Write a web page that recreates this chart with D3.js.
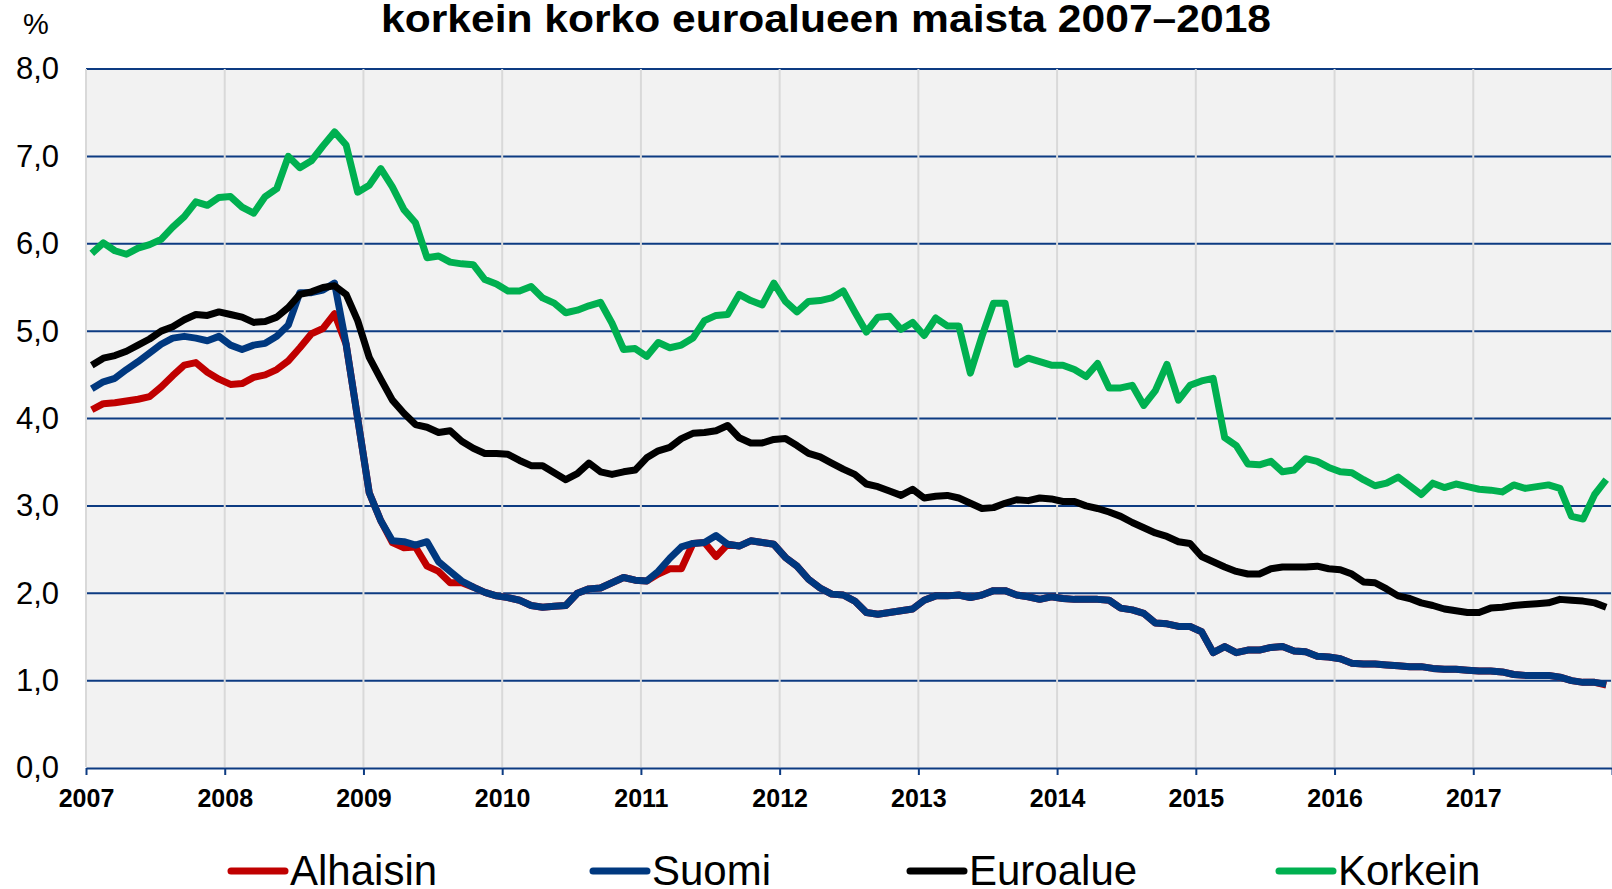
<!DOCTYPE html>
<html>
<head>
<meta charset="utf-8">
<script src="https://cdn.jsdelivr.net/npm/d3@7"></script>
<style>
    body { margin: 0; background: #fff; }
    svg { display: block; font-family: "Liberation Sans", Arial, sans-serif; }
</style>
</head>
<body>
<svg id="chart" width="1612" height="889"></svg>
<script>
// kuukausittaiset arvot tammikuu 2007 - joulukuu 2017
var firstYear = 2007, lastYear = 2018;
var yearTicks = d3.range(2007, 2019);
var yTicks = [0, 1, 2, 3, 4, 5, 6, 7, 8];
var seriesNames = ['Alhaisin', 'Suomi', 'Euroalue', 'Korkein'];

var alhaisin = [
    4.10, 4.17, 4.18, 4.20, 4.22, 4.25, 4.36, 4.49, 4.61, 4.64, 4.53, 4.45,
    4.39, 4.40, 4.47, 4.50, 4.56, 4.66, 4.81, 4.97, 5.03, 5.20, 4.85, 4.00,
    3.15, 2.83, 2.58, 2.52, 2.53, 2.31, 2.25, 2.12, 2.12, 2.07, 2.01, 1.97,
    1.95, 1.92, 1.86, 1.84, 1.85, 1.86, 2.00, 2.05, 2.06, 2.12, 2.18, 2.15,
    2.14, 2.22, 2.28, 2.28, 2.57, 2.58, 2.42, 2.56, 2.54, 2.60, 2.58, 2.56,
    2.41, 2.31, 2.16, 2.06, 1.99, 1.98, 1.91, 1.78, 1.76, 1.78, 1.80, 1.82,
    1.92, 1.97, 1.97, 1.98, 1.95, 1.98, 2.03, 2.03, 1.98, 1.96, 1.93, 1.96,
    1.94, 1.93, 1.93, 1.93, 1.92, 1.83, 1.81, 1.77, 1.66, 1.65, 1.62, 1.62,
    1.56, 1.32, 1.39, 1.32, 1.35, 1.35, 1.38, 1.39, 1.34, 1.33, 1.28, 1.27,
    1.25, 1.20, 1.19, 1.19, 1.18, 1.17, 1.16, 1.16, 1.14, 1.13, 1.13, 1.12,
    1.11, 1.11, 1.10, 1.07, 1.06, 1.06, 1.06, 1.04, 1.00, 0.98, 0.98, 0.95
];
var suomi = [
    4.34, 4.42, 4.46, 4.56, 4.65, 4.75, 4.85, 4.92, 4.94, 4.92, 4.89, 4.94,
    4.84, 4.79, 4.84, 4.86, 4.94, 5.07, 5.44, 5.44, 5.47, 5.55, 4.85, 4.00,
    3.15, 2.83, 2.60, 2.59, 2.55, 2.59, 2.36, 2.25, 2.14, 2.07, 2.01, 1.97,
    1.95, 1.92, 1.86, 1.84, 1.85, 1.86, 2.00, 2.05, 2.06, 2.12, 2.18, 2.15,
    2.14, 2.25, 2.40, 2.53, 2.57, 2.58, 2.66, 2.56, 2.54, 2.60, 2.58, 2.56,
    2.41, 2.31, 2.16, 2.06, 1.99, 1.98, 1.91, 1.78, 1.76, 1.78, 1.80, 1.82,
    1.92, 1.97, 1.97, 1.98, 1.95, 1.98, 2.03, 2.03, 1.98, 1.96, 1.93, 1.96,
    1.94, 1.93, 1.93, 1.93, 1.92, 1.83, 1.81, 1.77, 1.66, 1.65, 1.62, 1.62,
    1.56, 1.32, 1.39, 1.32, 1.35, 1.35, 1.38, 1.39, 1.34, 1.33, 1.28, 1.27,
    1.25, 1.20, 1.19, 1.19, 1.18, 1.17, 1.16, 1.16, 1.14, 1.13, 1.13, 1.12,
    1.11, 1.11, 1.10, 1.07, 1.06, 1.06, 1.06, 1.04, 1.00, 0.98, 0.98, 0.96
];
var euroalue = [
    4.61, 4.69, 4.72, 4.77, 4.84, 4.91, 5.00, 5.05, 5.13, 5.19, 5.18, 5.22,
    5.19, 5.16, 5.10, 5.11, 5.16, 5.27, 5.42, 5.45, 5.50, 5.52, 5.42, 5.12,
    4.70, 4.45, 4.21, 4.06, 3.93, 3.90, 3.84, 3.86, 3.74, 3.66, 3.60, 3.60,
    3.59, 3.52, 3.46, 3.46, 3.38, 3.30, 3.37, 3.49, 3.39, 3.36, 3.39, 3.41,
    3.55, 3.63, 3.67, 3.77, 3.83, 3.84, 3.86, 3.92, 3.78, 3.72, 3.72, 3.76,
    3.77, 3.69, 3.60, 3.56, 3.49, 3.42, 3.36, 3.25, 3.22, 3.17, 3.12, 3.19,
    3.09, 3.11, 3.12, 3.09, 3.03, 2.97, 2.98, 3.03, 3.07, 3.06, 3.09, 3.08,
    3.05, 3.05, 3.00, 2.97, 2.93, 2.88, 2.81, 2.75, 2.69, 2.65, 2.59, 2.57,
    2.42, 2.36, 2.30, 2.25, 2.22, 2.22, 2.28, 2.30, 2.30, 2.30, 2.31, 2.28,
    2.27, 2.22, 2.13, 2.12, 2.05, 1.97, 1.94, 1.89, 1.86, 1.82, 1.80, 1.78,
    1.78, 1.83, 1.84, 1.86, 1.87, 1.88, 1.89, 1.93, 1.92, 1.91, 1.89, 1.84
];
var korkein = [
    5.89, 6.01, 5.92, 5.88, 5.95, 5.99, 6.05, 6.19, 6.31, 6.48, 6.44, 6.53,
    6.54, 6.42, 6.35, 6.54, 6.63, 7.00, 6.87, 6.95, 7.12, 7.28, 7.13, 6.59,
    6.67, 6.86, 6.65, 6.39, 6.24, 5.84, 5.86, 5.79, 5.77, 5.76, 5.59, 5.54,
    5.46, 5.46, 5.51, 5.38, 5.32, 5.21, 5.24, 5.29, 5.33, 5.09, 4.79, 4.80,
    4.71, 4.87, 4.81, 4.84, 4.92, 5.12, 5.18, 5.19, 5.42, 5.35, 5.30, 5.55,
    5.34, 5.22, 5.34, 5.35, 5.38, 5.46, 5.22, 4.99, 5.16, 5.17, 5.02, 5.10,
    4.95, 5.15, 5.06, 5.06, 4.52, 4.94, 5.32, 5.32, 4.62, 4.69, 4.65, 4.61,
    4.61, 4.56, 4.48, 4.63, 4.35, 4.35, 4.38, 4.15, 4.32, 4.62, 4.21, 4.38,
    4.43, 4.46, 3.78, 3.69, 3.48, 3.47, 3.51, 3.39, 3.41, 3.54, 3.51, 3.44,
    3.39, 3.38, 3.30, 3.23, 3.26, 3.33, 3.23, 3.13, 3.26, 3.21, 3.25, 3.22,
    3.19, 3.18, 3.16, 3.24, 3.20, 3.22, 3.24, 3.20, 2.88, 2.85, 3.13, 3.30
];
var colors = ['#c00000', '#00387f', '#000000', '#00b050'];

function drawChart() {
    var svg = d3.select('#chart');
    var pl = 86, pr = 1612, pt = 69, pb = 768;
    var navy = '#0d3b82';

    var scX = d3.scaleLinear().domain([firstYear, lastYear]).range([pl, pr]);
    var scY = d3.scaleLinear().domain([0, 8]).range([pb, pt]);

    // otsikko
    svg.append('text')
        .attr('x', 826).attr('y', 32)
        .attr('text-anchor', 'middle')
        .attr('font-size', 38).attr('font-weight', 'bold')
        .attr('textLength', 890).attr('lengthAdjust', 'spacingAndGlyphs')
        .text('korkein korko euroalueen maista 2007\u20132018');
    svg.append('text')
        .attr('x', 36).attr('y', 34)
        .attr('text-anchor', 'middle')
        .attr('font-size', 29)
        .text('%');

    // piirtoalue
    svg.append('rect')
        .attr('x', pl).attr('y', pt)
        .attr('width', pr - pl).attr('height', pb - pt)
        .attr('fill', '#f2f2f2');

    svg.append('g').selectAll('line').data(yTicks.slice(1)).enter().append('line')
        .attr('x1', pl).attr('x2', pr)
        .attr('y1', d => scY(d)).attr('y2', d => scY(d))
        .attr('stroke', navy).attr('stroke-width', 2);

    svg.append('g').selectAll('line').data(yearTicks).enter().append('line')
        .attr('x1', d => scX(d)).attr('x2', d => scX(d))
        .attr('y1', pt).attr('y2', pb - 1)
        .attr('stroke', '#d9d9d9').attr('stroke-width', 2);

    // akselit
    var fi = d3.formatLocale({decimal: ',', thousands: '\u00a0', grouping: [3], currency: ['', '\u00a0€']});

    var gy = svg.append('g')
        .attr('transform', 'translate(' + pl + ',0)')
        .call(d3.axisLeft(scY).tickValues(yTicks).tickSize(0).tickPadding(27).tickFormat(fi.format('.1f')));
    gy.select('.domain').remove();
    gy.attr('font-family', null).attr('font-size', null);
    gy.selectAll('text').attr('font-size', 31).attr('fill', '#000');

    var gx = svg.append('g')
        .attr('transform', 'translate(0,' + pb + ')')
        .call(d3.axisBottom(scX).tickValues(yearTicks).tickSize(7).tickSizeOuter(0).tickPadding(14)
            .tickFormat(d => d < lastYear ? d : ''));
    gx.attr('font-family', null).attr('font-size', null);
    gx.select('.domain').attr('stroke', navy).attr('stroke-width', 2);
    gx.selectAll('.tick line').attr('stroke', navy).attr('stroke-width', 2);
    gx.selectAll('text').attr('font-size', 25).attr('font-weight', 'bold').attr('fill', '#000');

    // sarjat
    var series = [alhaisin, suomi, euroalue, korkein];
    var line = d3.line()
        .x((d, i) => scX(firstYear + (i + 0.5) / 12))
        .y(d => scY(d));

    svg.append('g').selectAll('path').data(series).enter().append('path')
        .attr('d', line)
        .attr('fill', 'none')
        .attr('stroke', (d, i) => colors[i])
        .attr('stroke-width', 7)
        .attr('stroke-linejoin', 'round');

    // selite
    var legX = [231, 593, 910, 1279];
    var leg = svg.append('g').selectAll('g').data(seriesNames).enter().append('g')
        .attr('transform', (d, i) => 'translate(' + legX[i] + ',871)');
    leg.append('line')
        .attr('x1', 0).attr('x2', 54)
        .attr('stroke', (d, i) => colors[i])
        .attr('stroke-width', 7)
        .attr('stroke-linecap', 'round');
    leg.append('text')
        .attr('x', 59).attr('y', 14)
        .attr('font-size', 42)
        .text(d => d);
}

drawChart();
</script>
</body>
</html>
